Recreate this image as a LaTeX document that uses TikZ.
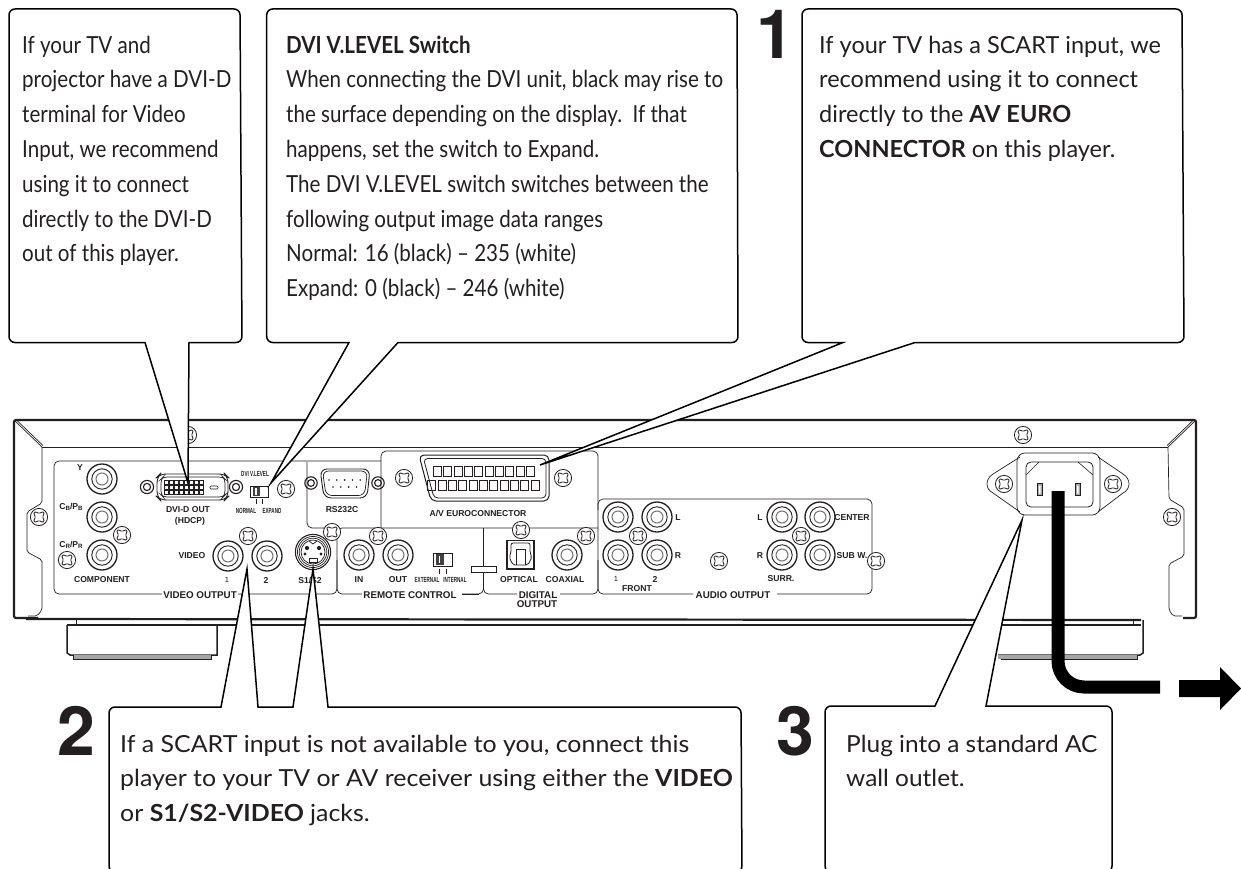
\documentclass[tikz,border=0pt]{standalone}
\usepackage{fontspec}
\usepackage{graphicx}
\setmainfont{Lato}
\newfontfamily\lblfont{Liberation Sans}
\newfontfamily\digfont{TeX Gyre Heros}
\newfontfamily\fontnarrow[FakeStretch=0.875]{Lato}
\newfontfamily\fontwide[FakeStretch=1.06]{Lato}
\newfontfamily\fontplug[FakeStretch=1.04]{Lato}
\definecolor{ink}{HTML}{231F20}
\tikzset{
  x=1pt,y=-1pt,
  callout/.style={draw=black,fill=white,line width=1.5pt,line join=miter},
  thinline/.style={draw=ink,line width=0.7pt},
  bodyline/.style={draw=ink,line width=1.8pt},
  say/.style={inner sep=0pt,anchor=north west,align=left,text=ink,font=\fontsize{23.5}{34.8}\selectfont},
  saynarrow/.style={say,font=\fontnarrow\fontsize{23.5}{34.8}\selectfont},
  saywide/.style={say,font=\fontwide\fontsize{23.5}{34.8}\selectfont},
  sayplug/.style={say,font=\fontplug\fontsize{23.5}{34.8}\selectfont},
  digit/.style={inner sep=0pt,text=ink,font=\digfont\bfseries\fontsize{68}{68}\selectfont},
  lbl/.style={inner sep=0pt,text=ink,font=\lblfont\bfseries\fontsize{8.6}{9}\selectfont},
  lblbig/.style={lbl,fill=white,inner xsep=1pt,font=\lblfont\bfseries\fontsize{9.8}{10}\selectfont},
  lbltiny/.style={inner sep=0pt,text=ink,font=\lblfont\bfseries\fontsize{7.4}{8}\selectfont},
}
\newcommand{\cond}[1]{\scalebox{0.62}[1]{#1}}
\newcommand{\subs}[1]{{\fontsize{6.2}{7}\selectfont\raisebox{-0.8pt}{#1}}}
\begin{document}
\begin{tikzpicture}
\useasboundingbox (0,0) rectangle (1241,869);
\clip (0,0) rectangle (1241,869);
\fill[white] (0,0) rectangle (1241,869);

% ---------- feet ----------
\draw[bodyline,line width=1.5pt] (67,625) -- (67,653) -- (70,655) -- (217,655) -- (217,625);
\fill[gray!70] (73,655) rectangle (211,659);
\draw[ink,line width=0.9pt] (73,655) -- (73,659) -- (211,659) -- (211,655);
\draw[bodyline,line width=1.5pt] (998,655) -- (1140,655) -- (1143,653) -- (1143,620);
\fill[gray!70] (998,655) rectangle (1137,659);
\draw[ink,line width=0.9pt] (1001,659) -- (1137,659) -- (1137,655);

% ---------- body ----------
\draw[bodyline,line width=2.2pt,rounded corners=2pt] (38,618) -- (14,618) -- (14,420) -- (1196,420) -- (1196,618) -- (1183,618);
\draw[bodyline,line width=2.2pt] (26,619) -- (1141,620);
\draw[bodyline,line width=1.6pt] (67,625) -- (1141,625);
\draw[thinline] (76,620) -- (76,625) (1133,620) -- (1133,625) ;
\draw[thinline,line width=0.9pt] (42,447) -- (1168,447);
\draw[thinline] (14.5,420.5) -- (42,447) (17,420.5) -- (43,445.5);
\draw[thinline] (1195.5,420.5) -- (1168,447) (1193,420.5) -- (1167,445.5);
\draw[thinline,rounded corners=2pt] (42,447) -- (42,503) -- (27,512) -- (27,552) -- (42,560) -- (42,610) -- (37,616) -- (28,616);
\draw[thinline,rounded corners=2pt] (1168,447) -- (1169,499) -- (1184,508) -- (1184,556) -- (1169,564) -- (1169,610) -- (1173,616) -- (1182,616);

% ---------- panels ----------
\draw[thinline,rounded corners=5pt] (165,594) -- (54,594) -- (54,461) -- (381,461);
\draw[thinline,rounded corners=5pt] (238,594) -- (337,594) -- (337,528) -- (598,528);
\draw[thinline,rounded corners=5pt] (307,462) -- (307,528) -- (337,528);
\draw[thinline,rounded corners=5pt] (381,528) -- (381,451) -- (598,451) -- (598,594) -- (560,594);
\draw[thinline,rounded corners=5pt] (337,560) -- (337,594) -- (363,594);
\draw[thinline] (462,594) -- (479,594);
\draw[thinline,rounded corners=5pt] (462,594) -- (483.5,594) -- (483.5,528);
\draw[thinline,rounded corners=5pt] (483.5,560) -- (483.5,594) -- (517,594);
\draw[thinline,rounded corners=5pt] (598,510) -- (598,499) -- (872,499) -- (872,594) -- (777,594);
\draw[thinline,rounded corners=5pt] (598,560) -- (598,594) -- (693,594);
\draw[thinline,fill=white] (471,566) rectangle (496,572);

% ---------- RCA jacks ----------
\foreach \p in {(102,479),(102,517),(102,555),(228,556),(267,556),(359,555),(398,555),(567,555),
                (618,517),(657,517),(618,555),(657,555),(782,517),(820,517),(782,555),(820,555)} {
  \draw[ink,line width=1.3pt] \p circle (15);
  \draw[ink,line width=0.9pt] \p circle (10.2);
  \draw[black!55,line width=1pt] \p circle (6);
}

% ---------- screws ----------
\foreach \sx/\sy in {39/517,188/435,122/535,67/560,248/536,286/489,332/532,378/536,
                404/478,563/478,521/530,586/536,638/536,719/561,801/536,876/561,
                1023/435,1172/517,1004/484,1113/484} {
  \begin{scope}[shift={(\sx,\sy)}]
    \draw[ink,line width=0.8pt,fill=white] (0,0) circle (8.6);
    \draw[ink,line width=0.8pt,rounded corners=1.3pt] (0,-3) -- (2,-5) -- (5,-5) -- (5,-2) -- (3,0) -- (5,2) -- (5,5) -- (2,5)
      -- (0,3) -- (-2,5) -- (-5,5) -- (-5,2) -- (-3,0) -- (-5,-2) -- (-5,-5) -- (-2,-5) -- cycle;
  \end{scope}
}

% ---------- DVI connector ----------
\draw[ink,line width=0.9pt,rounded corners=6pt] (157,477) -- (160,474) -- (225,474) -- (228,477) -- (228,497) -- (225,500) -- (160,500) -- (157,497) -- cycle;
\draw[ink,line width=0.7pt,rounded corners=4pt] (161,479) -- (163,477) -- (223,477) -- (225,479) -- (225,495) -- (223,497) -- (163,497) -- (161,495) -- cycle;
\foreach \c in {0,...,7} \foreach \r in {0,1,2} {
  \draw[ink,line width=0.5pt,fill=white] (164+\c*5.1,480.5+\r*5) rectangle +(3.8,3.6);
}
\draw[ink,line width=0.6pt,rounded corners=1pt] (210,486) rectangle (218,489);
\foreach \p in {(147,487),(236,487)} {
  \draw[ink,line width=1.1pt] \p circle (6.6);
  \draw[ink,line width=1.1pt] \p circle (3.6);
}
% DVI level switch
\draw[ink,line width=0.6pt] (250,486) rectangle (268,497);
\fill[ink!85] (253,487) rectangle (260,496);
\fill[white] (255.3,488) rectangle (257,495);
\draw[ink,line width=0.6pt] (256,499) -- (256,504) (262,499) -- (262,504);

% ---------- RS232 ----------
\draw[ink,line width=0.9pt,rounded corners=7pt] (320,469) -- (370,469) -- (367,498) -- (324,498) -- cycle;
\draw[ink,line width=0.7pt,rounded corners=6pt] (322.5,471) -- (367.5,471) -- (364.5,495.5) -- (326,495.5) -- cycle;
\foreach \i in {0,...,4} \fill[ink] (329+\i*7.8,480) circle (0.9);
\foreach \i in {0,...,3} \fill[ink] (333+\i*7.8,487) circle (0.9);
\foreach \p in {(311,483),(378,483)} {
  \draw[ink,line width=1.1pt] \p circle (6.2);
  \draw[ink,line width=1.1pt] \p circle (3.4);
}

% ---------- Euro connector ----------
\draw[ink,line width=1pt,rounded corners=5pt] (419,455) -- (549,455) -- (549,501) -- (431,501) -- cycle;
\draw[ink,line width=0.8pt,rounded corners=4pt] (423.5,458.5) -- (546,458.5) -- (546,498) -- (434,498) -- cycle;
\foreach \i in {0,...,9} \draw[ink,line width=0.8pt] (433.3+\i*10.33,466.7) rectangle +(8,10);
\foreach \i in {0,...,10} \draw[ink,line width=0.8pt] (427.7+\i*10.33,480) rectangle +(8,10);

% ---------- S-video ----------
\foreach \r/\w in {17.6/1.1,15.6/0.7,13.8/0.7,12/0.7} \draw[ink,line width=\w pt] (313,552) circle (\r);
\fill[ink] (307,548) circle (2.1) (319,548) circle (2.1) (305,554) circle (1.7) (321,554) circle (1.7);
\draw[ink,line width=0.7pt,fill=white] (309,558) rectangle (317,562);
\draw[ink,line width=0.7pt] (309,541) -- (313,544) -- (317,541);

% ---------- remote switch, optical ----------
\draw[ink,line width=0.6pt] (433,553) rectangle (452,566);
\fill[ink!85] (436,554) rectangle (444,565);
\fill[white] (438.5,556) rectangle (440,563);
\draw[ink,line width=0.6pt] (439,569) -- (439,574) (446,569) -- (446,574);
\draw[ink,line width=1.5pt] (507,540.5) rectangle (534,569);
\draw[ink,line width=0.8pt,rounded corners=2pt] (511,543) -- (530,543) -- (530,553) -- (532,557) -- (528,565) -- (513,565) -- (509,557) -- (511,553) -- cycle;
\draw[ink,line width=0.8pt] (516,565) -- (516,549) -- (525,549) -- (525,565);

% ---------- power inlet ----------
\draw[ink,line width=0.7pt] (1020,457) -- (993,474) .. controls (985,479) and (985,489) .. (993,493) -- (1020,512);
\draw[ink,line width=0.7pt] (1098,457) -- (1123,474) .. controls (1131,479) and (1131,489) .. (1123,493) -- (1098,512);
\draw[ink,line width=0.7pt,rounded corners=8pt] (1017,453) rectangle (1100,515);
\draw[ink,line width=0.8pt,rounded corners=5pt] (1026,462) rectangle (1093,507);
\draw[ink,line width=0.6pt] (1039,462) -- (1026,475) (1078,462) -- (1093,475);
\draw[ink,line width=0.9pt,fill=black!35] (1037,483.5) rectangle (1042.5,495.5);
\draw[ink,line width=0.9pt,fill=black!35] (1075,483.5) rectangle (1080.5,495.5);
\fill[white] (1038.8,485.5) rectangle (1040.6,493.5) (1076.8,485.5) rectangle (1078.6,493.5);

% ---------- power cord and arrow ----------
\draw[black,line width=13pt,rounded corners=26pt] (1058,491) -- (1058,687) -- (1160,687);
\fill[black] (1179,680) -- (1220,680) -- (1220,667) -- (1241,688.5) -- (1220,710) -- (1220,697) -- (1179,697) -- cycle;

% ---------- panel labels ----------
\begin{scope}
\node[lbl] (lY) at (80,468) {Y};
\node[lbl] (lCb) at (71,507) {C\subs{B}/P\subs{B}};
\node[lbl] (lCr) at (71,545) {C\subs{R}/P\subs{R}};
\node[lbl] (lComp) at (102,580) {COMPONENT};
\node[lbl] (lDvi) at (188,510) {DVI-D OUT};
\node[lbl] (lHdcp) at (190,521) {(HDCP)};
\node[lbl] (lVideo) at (192,556) {VIDEO};
\node[lbl,font=\lblfont\fontsize{7.5}{8}\selectfont] (lV1) at (227,580) {1};
\node[lbl] (lV2) at (266,580) {2};
\node[lbl] (lS) at (310,580) {S1/S2};
\node[lbl] (lRs) at (342,510) {RS232C};
\node[lbl] (lEuro) at (478,513) {A/V EUROCONNECTOR};
\node[lbl] (lIn) at (359,580) {IN};
\node[lbl] (lOut) at (398,580) {OUT};
\node[lbl] (lOpt) at (519,580) {OPTICAL};
\node[lbl] (lCoax) at (565,580) {COAXIAL};
\node[lbl] (lL1) at (678,518) {L};
\node[lbl] (lR1) at (678,556) {R};
\node[lbl,font=\lblfont\fontsize{7.5}{8}\selectfont] (lA1) at (616,579) {1};
\node[lbl] (lA2) at (655,579) {2};
\node[lbl] (lFront) at (637,589) {FRONT};
\node[lbl] (lL2) at (760,518) {L};
\node[lbl] (lR2) at (760,556) {R};
\node[lbl] (lSurr) at (781,579) {SURR.};
\node[lbl] (lCenter) at (852,518) {CENTER};
\node[lbl] (lSub) at (852,556) {SUB W.};
\node[lblbig] (lVout) at (200,595) {VIDEO OUTPUT};
\node[lblbig] (lRem) at (410,595) {REMOTE CONTROL};
\node[lblbig] (lDig) at (538,595) {DIGITAL};
\node[lblbig] (lDig2) at (537,604.5) {OUTPUT};
\node[lblbig] (lAud) at (733,595) {AUDIO OUTPUT};
\node[lbltiny] (lLevel) at (255,474) {\cond{DVI V.LEVEL}};
\node[lbltiny] (lNorm) at (246,511) {\cond{NORMAL}};
\node[lbltiny] (lExp) at (272,511) {\cond{EXPAND}};
\node[lbltiny] (lExt) at (427,580) {\cond{EXTERNAL}};
\node[lbltiny] (lInt) at (455,580) {\cond{INTERNAL}};
\end{scope}

% ---------- callouts ----------
\coordinate (tipA) at (188,483);
\coordinate (tipB) at (271,483);
\coordinate (tipC) at (540,465);
\coordinate (tipD) at (247,569);
\coordinate (tipE) at (313,569);
\coordinate (tipF) at (1022,520);

\draw[callout] (tipA) -- (145,342.5) [rounded corners=6pt] -- (9,342.5) -- (9,9) -- (240,9) -- (242,342.5) [sharp corners] -- (189,342.5) -- (tipA) -- cycle;
\draw[callout] (tipB) -- (349,342.5) [rounded corners=6pt] -- (266.7,342.5) -- (266.7,9) -- (737,9) -- (738,342.5) [sharp corners] -- (398,342.5) -- (tipB) -- cycle;
\draw[callout] (tipC) -- (843,342.5) [rounded corners=6pt] -- (802,342.5) -- (802,9) -- (1182,9) -- (1184,342.5) [sharp corners] -- (915,342.5) -- (tipC) -- cycle;
\draw[callout] (tipD) -- (221,707) [rounded corners=6pt] -- (109,707) -- (109,872) -- (742,872) -- (741,707) [sharp corners] -- (328,707) -- (tipE) -- (293,707) -- (258,707) -- (tipD) -- cycle;
\draw[callout] (tipF) -- (935,706) [rounded corners=6pt] -- (825,706) -- (825,872) -- (1112,872) -- (1112,706) [sharp corners] -- (986,706) -- (tipF) -- cycle;

\node[saynarrow] (txtA) at (22,35.5) {If your TV and\\projector have a DVI-D\\terminal for Video\\Input, we recommend\\using it to connect\\directly to the DVI-D\\out of this player.};
\node[saynarrow] (txtB) at (286,35.5) {\textbf{DVI V.LEVEL Switch}\\When connecting the DVI unit, black may rise to\\the surface depending on the display.\ \ If that\\happens, set the switch to Expand.\\The DVI V.LEVEL switch switches between the\\following output image data ranges\\Normal: 16 (black) – 235 (white)\\Expand: 0 (black) – 246 (white)};
\node[say] (txtC) at (819,35.5) {If your TV has a SCART input, we\\recommend using it to connect\\directly to the \textbf{AV EURO}\\\textbf{CONNECTOR} on this player.};
\node[saywide] (txtD) at (120,734.5) {If a SCART input is not available to you, connect this\\player to your TV or AV receiver using either the \textbf{VIDEO}\\or \textbf{S1/S2-VIDEO} jacks.};
\node[sayplug] (txtE) at (846,734.5) {Plug into a standard AC\\wall outlet.};

\node[digit] (d1) at (775,34) {1};
\node[digit] (d2) at (76,731) {2};
\node[digit] (d3) at (795.5,731) {3};
\end{tikzpicture}
\end{document}
